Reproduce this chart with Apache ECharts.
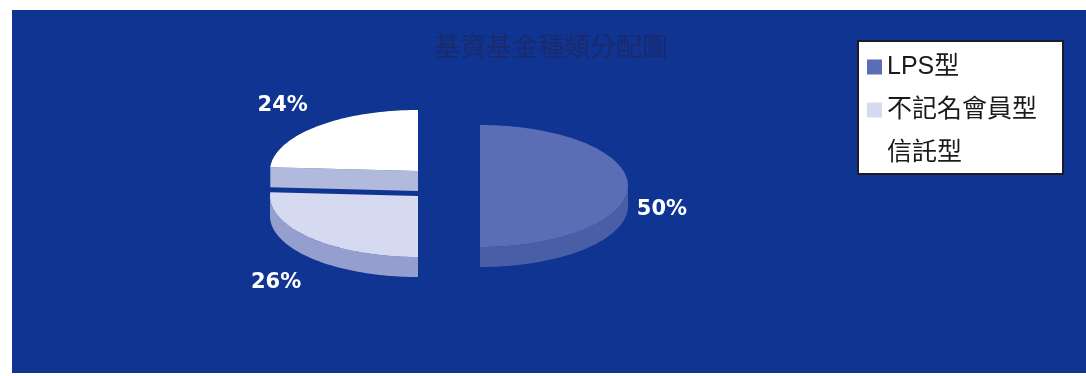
<!DOCTYPE html>
<html>
<head>
<meta charset="utf-8">
<script src="https://cdn.jsdelivr.net/npm/echarts@6/dist/echarts.min.js"></script>
<style>
  html, body { margin: 0; padding: 0; background: #ffffff; }
  #chart { width: 1086px; height: 376px; }
</style>
</head>
<body>
<div id="chart"></div>
<script>
// Fund types and their shares (%)
const categories = ['LPS型', '不記名會員型', '信託型'];
const shares = [50, 26, 24];
const chartTitle = '基資基金種類分配圖';

// Slice colours: top face and side walls
const topColors = ['#5a6db5', '#d6daf0', '#ffffff'];
const sideColors = ['#4a5ea8', '#959fcf', '#b1badc'];

// Tilted pie layout (pixels)
const pie = { cx: 449, cy: 183, rx: 148, ry: 61, depth: 20 };
const explode = [[31, 3], [-31, 13], [-31, -12]];
const labelNudge = [[34, 24], [-34, 45], [-34, -21]];

const total = shares.reduce((a, b) => a + b, 0);
const before = shares.map((_, i) => shares.slice(0, i).reduce((a, b) => a + b, 0));

function arcPoints(cx, cy, a0, a1, dy) {
  const n = Math.max(2, Math.ceil(Math.abs(a1 - a0) / (Math.PI / 120)));
  const pts = [];
  for (let k = 0; k <= n; k++) {
    const a = a0 + (a1 - a0) * k / n;
    pts.push([cx + pie.rx * Math.cos(a), cy + pie.ry * Math.sin(a) + dy]);
  }
  return pts;
}

function renderSlice(i) {
  return function (params, api) {
    const value = api.value(0);
    const start = api.value(1);
    const a0 = -Math.PI / 2 + start / total * 2 * Math.PI;
    const a1 = a0 + value / total * 2 * Math.PI;
    const cx = pie.cx + explode[i][0];
    const cy = pie.cy + explode[i][1];
    const d = pie.depth;
    const children = [];

    // radial cut faces turned toward the viewer
    const cuts = [[a0, -Math.cos(a0)], [a1, Math.cos(a1)]];
    cuts.forEach(function (c) {
      if (c[1] > 0.01) {
        const px = cx + pie.rx * Math.cos(c[0]);
        const py = cy + pie.ry * Math.sin(c[0]);
        children.push({
          type: 'polygon',
          shape: { points: [[cx, cy], [px, py], [px, py + d], [cx, cy + d]] },
          style: { fill: sideColors[i] }
        });
      }
    });

    // outer wall on the front half
    const w0 = Math.max(a0, 0), w1 = Math.min(a1, Math.PI);
    if (w1 > w0) {
      const topArc = arcPoints(cx, cy, w0, w1, 0);
      const botArc = arcPoints(cx, cy, w1, w0, d);
      children.push({
        type: 'polygon',
        shape: { points: topArc.concat(botArc) },
        style: { fill: sideColors[i] }
      });
    }

    // top face
    children.push({
      type: 'polygon',
      shape: { points: [[cx, cy]].concat(arcPoints(cx, cy, a0, a1, 0)) },
      style: { fill: topColors[i] }
    });

    // percentage label
    const mid = (a0 + a1) / 2;
    children.push({
      type: 'text',
      x: cx + pie.rx * Math.cos(mid) + labelNudge[i][0],
      y: cy + pie.ry * Math.sin(mid) + labelNudge[i][1],
      style: {
        text: value + '%',
        fill: '#ffffff',
        font: 'bold 21px "DejaVu Sans", sans-serif',
        align: 'center',
        verticalAlign: 'middle'
      }
    });

    return { type: 'group', children: children };
  };
}

const series = categories.map(function (name, i) {
  return {
    type: 'custom',
    name: name,
    coordinateSystem: 'none',
    silent: true,
    itemStyle: { color: topColors[i] },
    data: [[shares[i], before[i]]],
    renderItem: renderSlice(i)
  };
});

const chart = echarts.init(document.getElementById('chart'), null, { renderer: 'canvas' });
chart.setOption({
  animation: false,
  backgroundColor: '#ffffff',
  graphic: [{
    type: 'rect',
    z: 0,
    silent: true,
    shape: { x: 12, y: 10, width: 1074, height: 363 },
    style: { fill: '#0f3491' }
  }],
  title: {
    text: chartTitle,
    left: 434,
    top: 33,
    padding: 0,
    textStyle: {
      fontSize: 26,
      fontWeight: 'normal',
      color: '#1b2a6c',
      fontFamily: '"Noto Sans CJK TC", sans-serif'
    }
  },
  legend: {
    orient: 'vertical',
    left: 858,
    top: 41,
    data: categories,
    icon: 'rect',
    itemWidth: 15,
    itemHeight: 15,
    itemGap: 13,
    padding: [11, 26, 6, 9],
    backgroundColor: '#ffffff',
    borderColor: '#1c1c28',
    borderWidth: 2,
    textStyle: {
      fontSize: 25,
      lineHeight: 30,
      color: '#1a1a1a',
      fontFamily: '"Liberation Sans", "Noto Sans CJK TC", sans-serif'
    }
  },
  series: series
});
</script>
</body>
</html>
